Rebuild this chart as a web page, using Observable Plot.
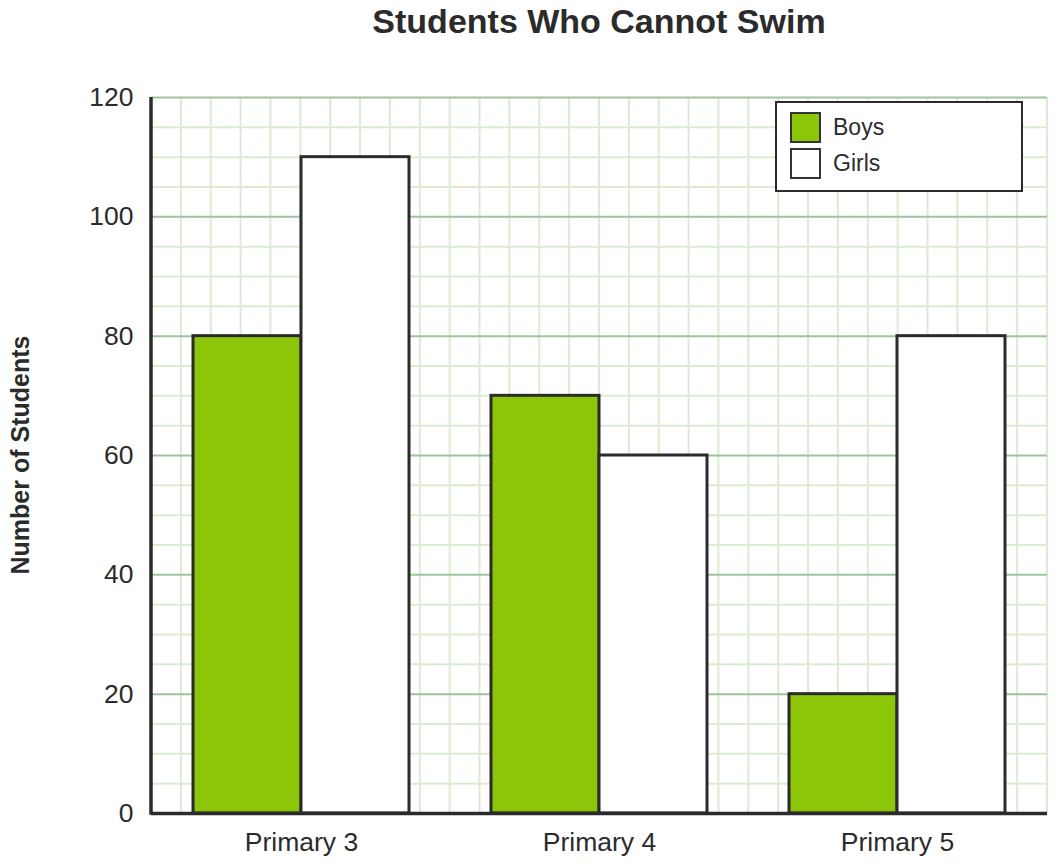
<!DOCTYPE html>
<html>
<head>
<meta charset="utf-8">
<script src="https://cdn.jsdelivr.net/npm/d3@7"></script>
<script src="https://cdn.jsdelivr.net/npm/@observablehq/plot@0.6"></script>
<style>
  html, body { margin: 0; padding: 0; background: #fff; }
  #wrap { position: relative; width: 1055px; height: 866px; font-family: Arial, "Liberation Sans", sans-serif; color: #2b2b2b; }
  #chart { position: absolute; left: 0; top: 0; }
  #title { position: absolute; left: 151px; width: 896px; top: 4px; text-align: center; font-size: 34px; font-weight: bold; line-height: 1; }
  #ylabel { position: absolute; left: 20px; top: 455px; transform: translate(-50%, -50%) rotate(-90deg); font-size: 25px; font-weight: bold; white-space: nowrap; line-height: 1; }
  #legend { position: absolute; left: 775px; top: 101px; width: 244px; height: 87px; border: 2px solid #2b2b2b; background: #fff; }
  .item { position: absolute; left: 13px; display: flex; align-items: center; font-size: 23px; }
  .sw { width: 27px; height: 27px; border: 2px solid #333; margin-right: 12px; box-sizing: content-box; }
</style>
</head>
<body>
<div id="wrap">
  <div id="chart"></div>
  <div id="title">Students Who Cannot Swim</div>
  <div id="ylabel">Number of Students</div>
  <div id="legend"></div>
</div>
<script>
const categories = ["Primary 3", "Primary 4", "Primary 5"];
const boys = [80, 70, 20];
const girls = [110, 60, 80];
const seriesNames = ["Boys", "Girls"];
const seriesColors = ["#8bc609", "#ffffff"];
const majorTicks = [0, 20, 40, 60, 80, 100, 120];
const minorTicks = [5, 10, 15, 25, 30, 35, 45, 50, 55, 65, 70, 75, 85, 90, 95, 105, 110, 115];

const boysData = categories.map((c, i) => ({cat: c, value: boys[i]}));
const girlsData = categories.map((c, i) => ({cat: c, value: girls[i]}));

const dark = "#2b2b2b";
const halfBar = 108;

const plot = Plot.plot({
  width: 1055,
  height: 866,
  marginLeft: 151,
  marginRight: 8,
  marginTop: 97,
  marginBottom: 53,
  style: {fontFamily: 'Arial, "Liberation Sans", sans-serif', color: dark, background: "#fff", overflow: "visible"},
  x: {domain: categories, paddingInner: 0.2764, paddingOuter: 0.1382, label: null},
  y: {domain: [0, 120], label: null},
  marks: [
    Plot.gridY(minorTicks, {stroke: "#dcebd2", strokeOpacity: 1, strokeWidth: 2}),
    Plot.gridY(majorTicks, {stroke: "#9fc49d", strokeOpacity: 1, strokeWidth: 2}),
    Plot.barY(boysData, {x: "cat", y: "value", fill: seriesColors[0], stroke: dark, strokeWidth: 3, insetRight: halfBar}),
    Plot.barY(girlsData, {x: "cat", y: "value", fill: seriesColors[1], stroke: dark, strokeWidth: 3, insetLeft: halfBar}),
    Plot.ruleY([0], {stroke: dark, strokeWidth: 3.5}),
    Plot.axisY(majorTicks, {tickSize: 0, tickPadding: 18, fontSize: 26.5, fill: dark, label: null}),
    Plot.axisX({tickSize: 0, tickPadding: 19, fontSize: 26.5, fill: dark, label: null})
  ]
});
document.getElementById("chart").appendChild(plot);

// vertical minor grid and left axis line (decoration, from the scales' ranges)
const xr = plot.scale("x").range;
const yr = plot.scale("y").range;
const svg = d3.select(plot);
const cells = 30;
const step = (xr[1] - xr[0]) / cells;
const vg = svg.insert("g", "g").attr("aria-label", "vertical grid");
vg.selectAll("line").data(d3.range(1, cells + 1)).join("line")
  .attr("x1", d => xr[0] + d * step).attr("x2", d => xr[0] + d * step)
  .attr("y1", yr[1]).attr("y2", yr[0])
  .attr("stroke", "#dcebd2").attr("stroke-width", 2);
svg.append("line")
  .attr("x1", xr[0]).attr("x2", xr[0])
  .attr("y1", yr[1]).attr("y2", yr[0] + 1.75)
  .attr("stroke", dark).attr("stroke-width", 3.5);

// legend
const legend = d3.select("#legend");
seriesNames.forEach((name, i) => {
  const item = legend.append("div").attr("class", "item").style("top", (9 + i * 36) + "px");
  item.append("div").attr("class", "sw").style("background", seriesColors[i]);
  item.append("span").text(name);
});
</script>
</body>
</html>
